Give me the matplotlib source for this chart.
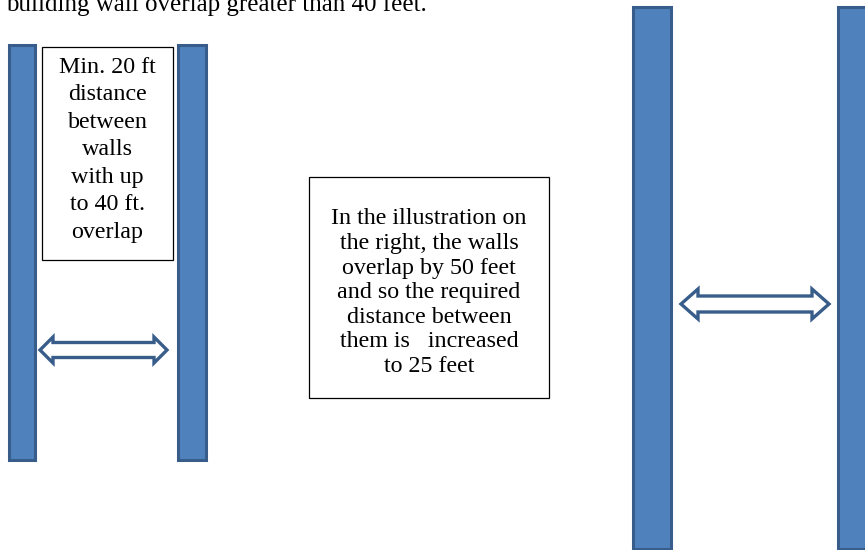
"""
Wall separation diagram: required distance between overlapping building walls
"""

import matplotlib.pyplot as plt
import matplotlib.patches as mpatches

# walls: (left, right, top, bottom) in pixel space of the 865x550 page
left_pair = [(9, 35, 45, 460), (178, 206, 45, 460)]
right_pair = [(633, 671, 7, 549), (838, 880, 7, 549)]

# double arrows: (x start, x end, y centre, shaft height, head height, head length)
arrows = [(40, 167, 350, 15, 26, 13), (681, 829, 304, 16, 30, 17)]

# text boxes: (left, right, top, bottom)
box_left = (42, 173, 47, 260)
box_mid = (309, 549, 177, 398)

heading = "building wall overlap greater than 40 feet."
left_note = "Min. 20 ft\ndistance\nbetween\nwalls\nwith up\nto 40 ft.\noverlap"
mid_note = ("In the illustration on\nthe right, the walls\noverlap by 50 feet\n"
            "and so the required\ndistance between\nthem is   increased\nto 25 feet")

WALL_FILL = "#4F81BD"
WALL_EDGE = "#385D8A"
SERIF = ["Liberation Serif", "DejaVu Serif"]


def double_arrow(x0, x1, yc, sh, hh, hl):
    pts = [(x0, yc), (x0 + hl, yc - hh / 2), (x0 + hl, yc - sh / 2),
           (x1 - hl, yc - sh / 2), (x1 - hl, yc - hh / 2), (x1, yc),
           (x1 - hl, yc + hh / 2), (x1 - hl, yc + sh / 2),
           (x0 + hl, yc + sh / 2), (x0 + hl, yc + hh / 2)]
    return mpatches.Polygon(pts, closed=True, facecolor="white",
                            edgecolor=WALL_EDGE, linewidth=2.4, joinstyle="miter")


fig = plt.figure(figsize=(8.65, 5.5), dpi=100)
ax = fig.add_axes([0, 0, 1, 1])
ax.set_xlim(0, 865)
ax.set_ylim(550, 0)
ax.axis("off")

for l, r, t, b in left_pair + right_pair:
    ax.add_patch(mpatches.Rectangle((l, t), r - l, b - t, facecolor=WALL_FILL,
                                    edgecolor=WALL_EDGE, linewidth=2.2))

for a in arrows:
    ax.add_patch(double_arrow(*a))

for (l, r, t, b) in [box_left, box_mid]:
    ax.add_patch(mpatches.Rectangle((l, t), r - l, b - t, facecolor="white",
                                    edgecolor="black", linewidth=0.9))

# heading is clipped at the top edge, as in the source page
ax.text(6, 11, heading, family=SERIF, fontsize=18, va="baseline", ha="left",
        color="black")
# va="baseline" on multi-line text anchors the last line's baseline
ax.text((box_left[0] + box_left[1]) / 2, 238, left_note, family=SERIF,
        fontsize=17.3, ha="center", va="baseline", multialignment="center",
        linespacing=1.41)
ax.text((box_mid[0] + box_mid[1]) / 2, 372, mid_note, family=SERIF,
        fontsize=17.3, ha="center", va="baseline", multialignment="center",
        linespacing=1.225)

fig.savefig("out.png", dpi=100)
